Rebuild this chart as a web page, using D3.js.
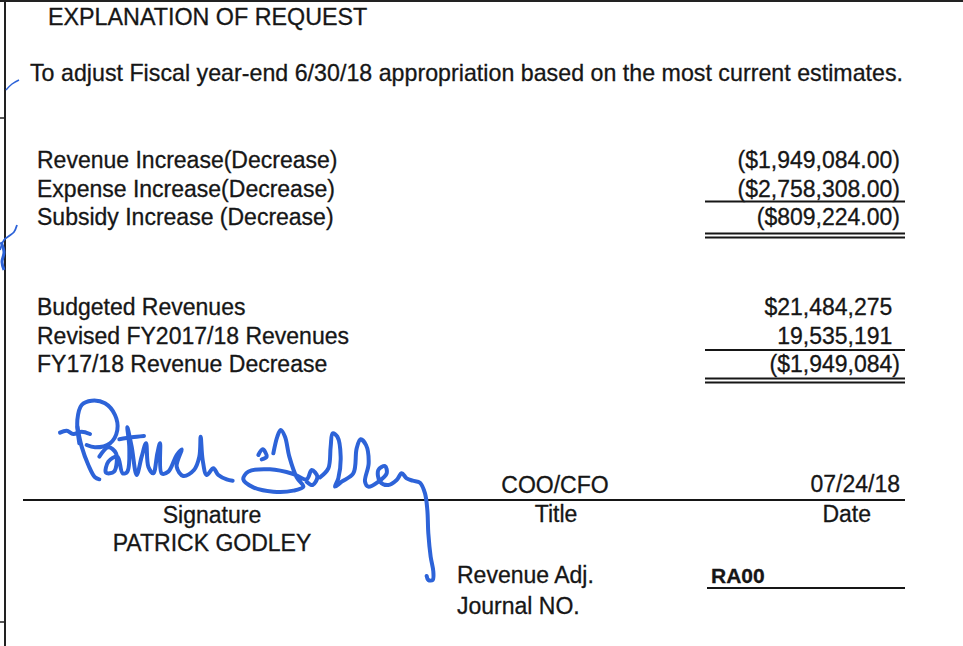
<!DOCTYPE html>
<html>
<head>
    <title>Explanation of Request</title>
    <script src="https://d3js.org/d3.v7.min.js"></script>
    <style>
      body { margin: 0; background: #fff; }
      text { font-family: "Liberation Sans", Arial, sans-serif; fill: #161616; stroke: #161616; stroke-width: 0.3px; }
    </style>
</head>
<body>
    <svg width="963" height="646"></svg>

    <script>
      // data
      const heading = "EXPLANATION OF REQUEST";
      const requestText = "To adjust Fiscal year-end 6/30/18 appropriation based on the most current estimates.";

      const adjustLabels = ["Revenue Increase(Decrease)", "Expense Increase(Decrease)", "Subsidy Increase (Decrease)"];
      const adjustValues = [-1949084.00, -2758308.00, -809224.00];

      const revenueLabels = ["Budgeted Revenues", "Revised FY2017/18 Revenues", "FY17/18 Revenue Decrease"];
      const revenueValues = [21484275, 19535191, -1949084];
      const revenueDollar = [true, false, true];

      const signer = "PATRICK GODLEY";
      const signTitle = "COO/CFO";
      const signDate = "07/24/18";
      const journalNo = "RA00";

      const svg = d3.select("svg"),
            ink = "#2d63d8";

      // page frame
      svg.append("line").attr("x1", 0).attr("x2", 963).attr("y1", 1).attr("y2", 1)
         .attr("stroke", "#222").attr("stroke-width", 2);
      svg.append("line").attr("x1", 5).attr("x2", 5).attr("y1", 0).attr("y2", 646)
         .attr("stroke", "#222").attr("stroke-width", 2);
      [118, 622].forEach(y => svg.append("line").attr("x1", 0).attr("x2", 5)
         .attr("y1", y).attr("y2", y).attr("stroke", "#222").attr("stroke-width", 1.5));

      svg.append("text").attr("x", 48).attr("y", 25).attr("font-size", 23.3).text(heading);
      svg.append("text").attr("x", 30).attr("y", 81).attr("font-size", 23.2)
         .attr("textLength", 873).attr("lengthAdjust", "spacing").text(requestText);

      // amount formats
      const money2 = d3.format("$,.2f"), money0 = d3.format("$,.0f"), plain0 = d3.format(",.0f");
      const fmtAdjust = v => v < 0 ? `(${money2(-v)})` : money2(v);
      const fmtRevenue = (v, i) => {
        const f = revenueDollar[i] ? money0 : plain0;
        return v < 0 ? `(${f(-v)})` : f(v);
      };

      const rightEdge = 900, parenW = 7.7, ruleX = [705, 905];

      function block(labels, values, fmt, y0, y1, rule1, dbl) {
        const y = d3.scalePoint().domain(d3.range(labels.length)).range([y0, y1]);
        const g = svg.append("g");
        g.selectAll(".lab").data(labels).join("text")
          .attr("x", 37).attr("y", (d, i) => y(i)).attr("font-size", 23).text(d => d);
        g.selectAll(".val").data(values).join("text")
          .attr("x", d => d < 0 ? rightEdge : rightEdge - parenW)
          .attr("y", (d, i) => y(i)).attr("text-anchor", "end").attr("font-size", 23)
          .text((d, i) => fmt(d, i));
        const n = labels.length - 1;
        const rules = [y(n - 1) + rule1, y(n) + dbl, y(n) + dbl + 4];
        g.selectAll("line").data(rules).join("line")
          .attr("x1", ruleX[0]).attr("x2", ruleX[1]).attr("y1", d => d).attr("y2", d => d)
          .attr("stroke", "#161616").attr("stroke-width", 1.8);
      }
      block(adjustLabels, adjustValues, fmtAdjust, 168, 225, 5, 8.5);
      block(revenueLabels, revenueValues, fmtRevenue, 315, 372, 6.5, 6.5);

      // signature area
      svg.append("line").attr("x1", 23).attr("x2", 905).attr("y1", 500).attr("y2", 500)
         .attr("stroke", "#161616").attr("stroke-width", 1.8);
      svg.append("text").attr("x", 555).attr("y", 493).attr("text-anchor", "middle").attr("font-size", 23).text(signTitle);
      svg.append("text").attr("x", 900).attr("y", 492).attr("text-anchor", "end").attr("font-size", 23).text(signDate);
      svg.append("text").attr("x", 212).attr("y", 523).attr("text-anchor", "middle").attr("font-size", 23).text("Signature");
      svg.append("text").attr("x", 556).attr("y", 522).attr("text-anchor", "middle").attr("font-size", 23).text("Title");
      svg.append("text").attr("x", 871).attr("y", 522).attr("text-anchor", "end").attr("font-size", 23).text("Date");
      svg.append("text").attr("x", 212).attr("y", 551).attr("text-anchor", "middle").attr("font-size", 23).text(signer);
      svg.append("text").attr("x", 457).attr("y", 583).attr("font-size", 23).text("Revenue Adj.");
      svg.append("text").attr("x", 457).attr("y", 614).attr("font-size", 23).text("Journal NO.");
      svg.append("text").attr("x", 711).attr("y", 583).attr("font-size", 21).attr("font-weight", "bold").text(journalNo);
      svg.append("line").attr("x1", 707).attr("x2", 905).attr("y1", 588).attr("y2", 588)
         .attr("stroke", "#161616").attr("stroke-width", 1.8);

      // handwritten signature, traced in a 3x frame anchored at (40,390)
      const sx = d3.scaleLinear().domain([0, 3]).range([40, 41]),
            sy = d3.scaleLinear().domain([0, 3]).range([390, 391]);
      const pen = d3.line().x(d => sx(d[0])).y(d => sy(d[1])).curve(d3.curveCatmullRom.alpha(0.5));
      const strokes = [
        [[60,128],[80,122],[100,132],[125,125],[150,132]],
        [[118,160],[112,90],[125,45],[155,32],[195,40],[225,75],[232,120],[210,160],[165,172],[140,165]],
        [[112,110],[125,170],[145,225],[165,262],[178,268]],
        [[178,200],[205,172],[228,190],[222,245],[198,248],[205,215],[232,200],[248,250],[262,245],[268,175],[262,112],[275,170],[290,255],[305,200],[318,160],[325,230],[340,250],[352,190],[360,160],[365,250],[385,245],[410,195],[425,178],[410,230],[430,258],[462,240],[478,200],[482,140],[488,210],[500,255],[520,235],[535,255],[560,268],[578,272]],
        [[238,148],[275,142],[312,138]],
        [[655,195],[668,178],[680,200],[665,208]],
        [[700,190],[712,140],[722,120],[735,140],[748,200],[770,262],[790,290],[760,302],[700,305],[640,292],[610,268],[625,245],[690,238],[760,252],[800,268],[815,240],[832,260],[818,285],[800,275]],
        [[840,262],[865,235],[872,170],[878,130],[892,140],[902,200],[895,265],[885,290],[905,275],[940,250],[950,175],[962,148],[978,165],[986,220],[975,275],[985,290],[1015,275],[1040,250],[1035,228],[1015,240],[1020,275],[1045,285],[1070,270],[1085,250],[1100,265],[1118,272],[1140,278],[1155,310],[1162,360],[1165,430],[1172,500],[1180,545],[1178,570],[1165,570],[1160,558]]
      ];
      svg.append("g").selectAll("path").data(strokes).join("path")
        .attr("d", pen).attr("fill", "none").attr("stroke", ink)
        .attr("stroke-width", 4).attr("stroke-linecap", "round").attr("stroke-linejoin", "round");

      // margin ticks in ink
      const tick = d3.line().curve(d3.curveCatmullRom);
      svg.append("path").attr("d", tick([[6, 90], [12, 84], [19, 80]]))
         .attr("fill", "none").attr("stroke", ink).attr("stroke-width", 1.5);
      svg.append("path").attr("d", tick([[0, 250], [4, 240], [9, 236], [14, 232], [17, 225]]))
         .attr("fill", "none").attr("stroke", ink).attr("stroke-width", 1.8);
      svg.append("path").attr("d", tick([[1, 242], [4, 252], [2, 262], [4, 270]]))
         .attr("fill", "none").attr("stroke", ink).attr("stroke-width", 3);
    </script>
</body>
</html>
